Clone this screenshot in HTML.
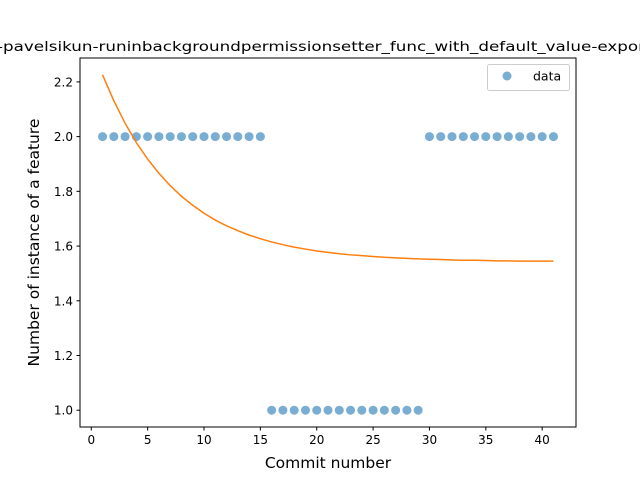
<!DOCTYPE html>
<html><head><meta charset="utf-8"><style>
body{margin:0;background:#fff}
svg{display:block;font-family:"DejaVu Sans","Liberation Sans",sans-serif}
</style></head><body>
<svg id="chart" width="640" height="480">
<rect width="640" height="480" fill="#fff"/>
<text x="-3" y="51" font-size="13.3" textLength="648" lengthAdjust="spacingAndGlyphs">-pavelsikun-runinbackgroundpermissionsetter_func_with_default_value-expor</text>
<g id="plot"></g>
<rect x="80" y="58" width="496" height="369" fill="none" stroke="#000" stroke-width="1"/>
<text x="328" y="468" font-size="15.5" text-anchor="middle">Commit number</text>
<text transform="translate(39,242.5) rotate(-90)" font-size="15.5" text-anchor="middle">Number of instance of a feature</text>
<g>
<rect x="487.5" y="64.5" width="82" height="26" rx="2" fill="#fff" stroke="#ccc"/>
<circle cx="507" cy="76" r="4.5" fill="#1f77b4" fill-opacity="0.6"/>
<text x="533" y="80.5" font-size="12.5">data</text>
</g>
</svg>
<script>
const commits = [1,2,3,4,5,6,7,8,9,10,11,12,13,14,15,16,17,18,19,20,21,22,23,24,25,26,27,28,29,30,31,32,33,34,35,36,37,38,39,40,41];
const counts = [2,2,2,2,2,2,2,2,2,2,2,2,2,2,2,1,1,1,1,1,1,1,1,1,1,1,1,1,1,2,2,2,2,2,2,2,2,2,2,2,2];
const fitValues = [2.226,2.131,2.049,1.978,1.918,1.866,1.821,1.782,1.749,1.720,1.695,1.674,1.656,1.640,1.627,1.615,1.605,1.596,1.589,1.582,1.577,1.572,1.568,1.565,1.562,1.559,1.557,1.555,1.553,1.552,1.551,1.549,1.548,1.548,1.547,1.546,1.546,1.545,1.545,1.545,1.545];
const xTicks = [0,5,10,15,20,25,30,35,40];
const yTicks = ["1.0","1.2","1.4","1.6","1.8","2.0","2.2"];
const NS="http://www.w3.org/2000/svg";
const plot=document.getElementById('plot');
const xmin=-1,xmax=43,ymin=0.9387,ymax=2.2873;
const X=v=>80+(v-xmin)/(xmax-xmin)*496;
const Y=v=>427-(v-ymin)/(ymax-ymin)*369;
function mk(t,a){const e=document.createElementNS(NS,t);for(const k in a)e.setAttribute(k,a[k]);plot.appendChild(e);return e;}
xTicks.forEach(t=>{
  const l=mk('line',{x1:X(t),x2:X(t),y1:427,y2:430.5,stroke:'#000'});
  
  
  const tx=mk('text',{x:X(t),y:444,'font-size':12,'text-anchor':'middle'});tx.textContent=t;
  
  
});
yTicks.forEach(t=>{
  const v=parseFloat(t);
  const l=mk('line',{x1:76.5,x2:80,y1:Y(v),y2:Y(v),stroke:'#000'});
  
  
  const tx=mk('text',{x:73,y:Y(v)+4.5,'font-size':12,'text-anchor':'end'});tx.textContent=t;
  
  
});
commits.forEach((c,i)=>{
  const p=mk('circle',{cx:X(c),cy:Y(counts[i]),r:4.5,fill:'#1f77b4','fill-opacity':0.6});
  
  
});
const path=mk('polyline',{points:commits.map((c,i)=>X(c)+','+Y(fitValues[i])).join(' '),fill:'none',stroke:'#ff7f0e','stroke-width':1.5});


</script>
</body></html>
